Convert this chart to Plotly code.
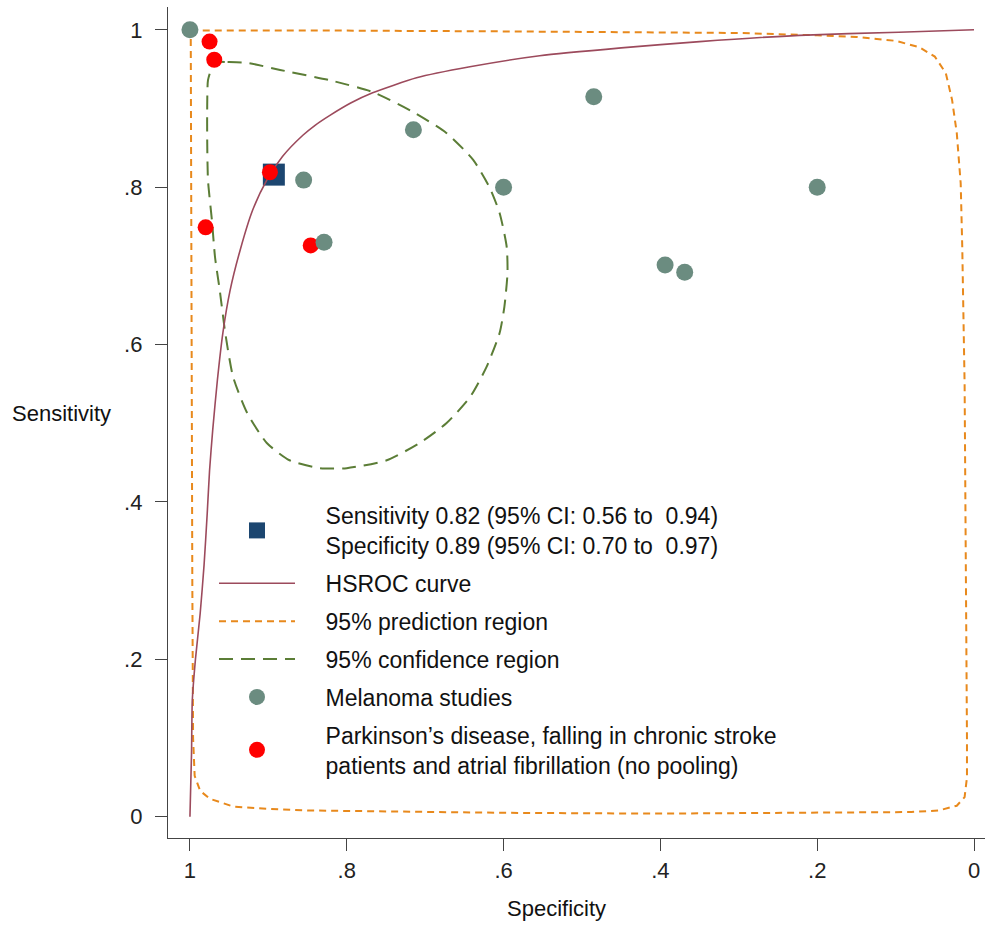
import plotly.graph_objects as go

# ---------------- data ----------------
mel_spec = [1.00, 0.715, 0.485, 0.855, 0.600, 0.200, 0.829, 0.394, 0.369]
mel_sens = [1.00, 0.873, 0.915, 0.809, 0.800, 0.800, 0.730, 0.701, 0.692]

pd_spec = [0.975, 0.969, 0.898, 0.980, 0.846]
pd_sens = [0.985, 0.962, 0.819, 0.749, 0.726]

summ_spec = [0.893]
summ_sens = [0.816]

hsroc_spec = [1.000, 0.998, 0.997, 0.993, 0.987, 0.982, 0.978, 0.975, 0.971, 0.965,
              0.958, 0.949, 0.936, 0.920, 0.902, 0.882, 0.856, 0.840, 0.822, 0.795,
              0.767, 0.711, 0.643, 0.554, 0.450, 0.350, 0.223, 0.096, 0.000]
hsroc_sens = [0.000, 0.080, 0.148, 0.200, 0.258, 0.320, 0.385, 0.440, 0.491, 0.555,
              0.615, 0.668, 0.720, 0.771, 0.809, 0.839, 0.866, 0.879, 0.891, 0.907,
              0.920, 0.939, 0.953, 0.967, 0.977, 0.985, 0.993, 0.997, 1.000]

pred_spec = [0.999, 0.800, 0.600, 0.400, 0.300, 0.200, 0.150, 0.100, 0.070, 0.050,
             0.036, 0.028, 0.022, 0.017, 0.015, 0.012, 0.010, 0.009, 0.009, 0.012,
             0.022, 0.045, 0.080, 0.200, 0.400, 0.600, 0.800, 0.850, 0.900, 0.945,
             0.975, 0.987, 0.994, 0.996, 0.997, 0.998, 0.999]
pred_sens = [0.999, 0.999, 0.998, 0.997, 0.996, 0.993, 0.991, 0.986, 0.978, 0.966,
             0.945, 0.911, 0.869, 0.805, 0.724, 0.550, 0.300, 0.100, 0.050, 0.025,
             0.014, 0.008, 0.006, 0.005, 0.004, 0.005, 0.007, 0.008, 0.010, 0.013,
             0.023, 0.033, 0.052, 0.100, 0.300, 0.600, 0.999]

conf_spec = [0.966, 0.952, 0.927, 0.885, 0.822, 0.767, 0.716, 0.673, 0.639, 0.618,
             0.605, 0.596, 0.595, 0.599, 0.605, 0.622, 0.643, 0.673, 0.707, 0.749,
             0.800, 0.834, 0.873, 0.902, 0.927, 0.945, 0.955, 0.962, 0.968, 0.972,
             0.977, 0.978, 0.978, 0.977, 0.972, 0.966]
conf_sens = [0.959, 0.959, 0.958, 0.949, 0.936, 0.921, 0.896, 0.869, 0.835, 0.800,
             0.767, 0.724, 0.691, 0.648, 0.615, 0.571, 0.533, 0.500, 0.475, 0.453,
             0.443, 0.443, 0.453, 0.475, 0.513, 0.559, 0.615, 0.669, 0.711, 0.758,
             0.809, 0.860, 0.902, 0.936, 0.952, 0.959]

tick_vals = [0, 0.2, 0.4, 0.6, 0.8, 1]
tick_text = ["0", ".2", ".4", ".6", ".8", "1"]

PAD = "\u00a0" * 4
summary_label = (PAD + "Sensitivity 0.82 (95% CI: 0.56 to  0.94)<br>" + PAD +
                 "Specificity 0.89 (95% CI: 0.70 to  0.97)")
names = [PAD + "HSROC curve", PAD + "95% prediction region", PAD + "95% confidence region",
         PAD + "Melanoma studies",
         PAD + "Parkinson\u2019s disease, falling in chronic stroke<br>" + PAD +
         "patients and atrial fibrillation (no pooling)"]

# ---------------- styles ----------------
C_PRED = "#e8891c"
C_CONF = "#5b7d36"
C_HSROC = "#9c4a5c"
C_MEL = "#6b8c80"
C_PD = "#ff0000"
C_SUM = "#1c4670"
FONT = "Liberation Sans, Arial, sans-serif"

fig = go.Figure()

fig.add_trace(go.Scatter(x=pred_spec, y=pred_sens, mode="lines", name=names[1],
                         line=dict(color=C_PRED, width=2, dash="7px,5px"),
                         legendrank=3, legendgroup="g3"))
fig.add_trace(go.Scatter(x=conf_spec, y=conf_sens, mode="lines", name=names[2],
                         line=dict(color=C_CONF, width=2, dash="14px,8px", shape="spline", smoothing=0.6),
                         legendrank=4, legendgroup="g4"))
fig.add_trace(go.Scatter(x=summ_spec, y=summ_sens, mode="markers", name=summary_label,
                         marker=dict(symbol="square", size=22, color=C_SUM),
                         legendrank=1, legendgroup="g1"))
fig.add_trace(go.Scatter(x=hsroc_spec, y=hsroc_sens, mode="lines", name=names[0],
                         line=dict(color=C_HSROC, width=1.6, shape="spline", smoothing=0.6),
                         legendrank=2, legendgroup="g2"))
fig.add_trace(go.Scatter(x=pd_spec, y=pd_sens, mode="markers", name=names[4],
                         marker=dict(size=16, color=C_PD),
                         legendrank=6, legendgroup="g6"))
fig.add_trace(go.Scatter(x=mel_spec, y=mel_sens, mode="markers", name=names[3],
                         marker=dict(size=17, color=C_MEL),
                         legendrank=5, legendgroup="g5"))

axis_common = dict(showgrid=False, zeroline=False, showline=True, linecolor="#444444",
                   linewidth=1.3, ticks="outside", ticklen=12, tickwidth=1.3,
                   tickcolor="#444444", tickvals=tick_vals, ticktext=tick_text,
                   automargin=False,
                   tickfont=dict(family=FONT, size=22, color="#222222"))

fig.update_layout(
    template="none",
    width=986, height=925,
    margin=dict(l=168, r=1, t=7, b=87, autoexpand=False),
    paper_bgcolor="white", plot_bgcolor="white",
    font=dict(family=FONT, size=22, color="#111111"),
    xaxis=dict(range=[1.028, -0.014], ticklabelstandoff=0, **axis_common),
    yaxis=dict(range=[-0.027, 1.029], ticklabelstandoff=8, **axis_common),
    showlegend=True,
    legend=dict(x=(214 - 168) / 817, y=1 - (494 - 7) / 831, xanchor="left", yanchor="top",
                bgcolor="rgba(0,0,0,0)", borderwidth=0, itemwidth=76, tracegroupgap=5,
                font=dict(family=FONT, size=23, color="#111111"), traceorder="grouped"),
    annotations=[
        dict(text="Sensitivity", xref="paper", yref="paper", x=(10 - 168) / 817,
             y=1 - (413 - 7) / 831, xanchor="left", yanchor="middle", showarrow=False,
             font=dict(family=FONT, size=22, color="#111111")),
        dict(text="Specificity", xref="paper", yref="paper", x=(556 - 168) / 817,
             y=1 - (908 - 7) / 831, xanchor="center", yanchor="middle", showarrow=False,
             font=dict(family=FONT, size=22, color="#111111")),
    ],
)

fig.write_html("out.html", config={"displayModeBar": False},
               post_script="document.body.style.margin='0px';document.body.style.overflow='hidden';")
